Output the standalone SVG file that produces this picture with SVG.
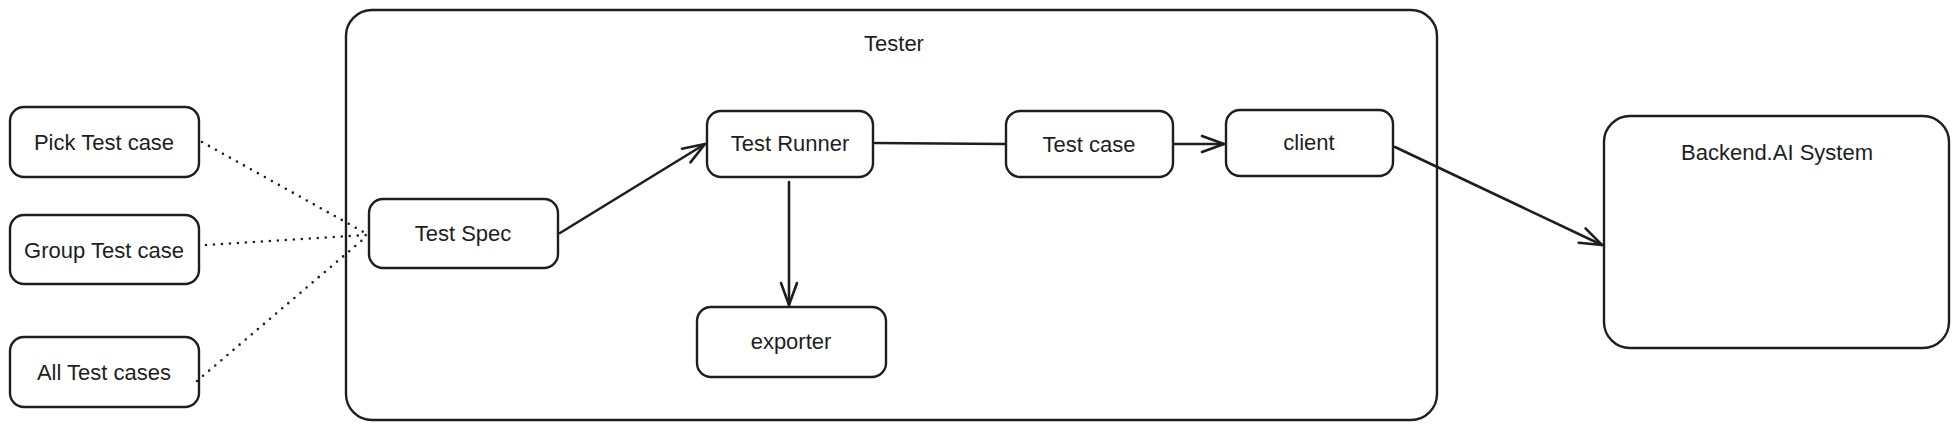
<svg xmlns="http://www.w3.org/2000/svg" width="1959" height="429" viewBox="0 0 1959 429">
<style>
.box{fill:#fff;stroke:#1e1e1e;stroke-width:2.4}
.lbl{font-family:"Liberation Sans",Arial,sans-serif;font-size:22px;fill:#1e1e1e;text-anchor:middle;dominant-baseline:central}
.edge{fill:none;stroke:#1e1e1e;stroke-width:2.6;stroke-linecap:round}
.dot{fill:none;stroke:#1e1e1e;stroke-width:2.6;stroke-linecap:round;stroke-dasharray:0 8}
</style>
<defs>
<marker id="arr" markerUnits="userSpaceOnUse" markerWidth="30" markerHeight="30" viewBox="-25 -12 30 24" refX="0" refY="0" orient="auto">
<path d="M-22,-8 L0,0 L-22,8" fill="none" stroke="#1e1e1e" stroke-width="2.6" stroke-linecap="round" stroke-linejoin="round"/>
</marker>
</defs>
<rect width="1959" height="429" fill="#fff"/>
<g id="tester">
<rect class="box" x="346" y="10" width="1091" height="410" rx="26"/>
<text class="lbl" x="894" y="43">Tester</text>
</g>
<g id="backend">
<rect class="box" x="1604" y="116" width="345" height="232" rx="26"/>
<text class="lbl" x="1777" y="152">Backend.AI System</text>
</g>
<g id="pick">
<rect class="box" x="10" y="107" width="189" height="70" rx="14"/>
<text class="lbl" x="104" y="142">Pick Test case</text>
</g>
<g id="group">
<rect class="box" x="10" y="215" width="189" height="69" rx="14"/>
<text class="lbl" x="104" y="250">Group Test case</text>
</g>
<g id="all">
<rect class="box" x="10" y="337" width="189" height="70" rx="14"/>
<text class="lbl" x="104" y="372">All Test cases</text>
</g>
<g id="testspec">
<rect class="box" x="369" y="199" width="189" height="69" rx="14"/>
<text class="lbl" x="463" y="233">Test Spec</text>
</g>
<g id="testrunner">
<rect class="box" x="707" y="111" width="166" height="66" rx="14"/>
<text class="lbl" x="790" y="143">Test Runner</text>
</g>
<g id="testcase">
<rect class="box" x="1006" y="111" width="167" height="66" rx="14"/>
<text class="lbl" x="1089" y="144">Test case</text>
</g>
<g id="client">
<rect class="box" x="1226" y="110" width="167" height="66" rx="14"/>
<text class="lbl" x="1309" y="142">client</text>
</g>
<g id="exporter">
<rect class="box" x="697" y="307" width="189" height="70" rx="14"/>
<text class="lbl" x="791" y="341">exporter</text>
</g>
<g id="connectors">
<path class="dot" d="M202,142 L367,234"/>
<path class="dot" d="M206,245 L367,235"/>
<path class="dot" d="M197,381 L367,236"/>
<path class="edge" d="M560,233 L705,144" marker-end="url(#arr)"/>
<path class="edge" d="M875,143 L1005,144"/>
<path class="edge" d="M1174,144 L1224,144" marker-end="url(#arr)"/>
<path class="edge" d="M789,182 L789,305" marker-end="url(#arr)"/>
<path class="edge" d="M1395,147 L1602,245" marker-end="url(#arr)"/>
</g>
</svg>
